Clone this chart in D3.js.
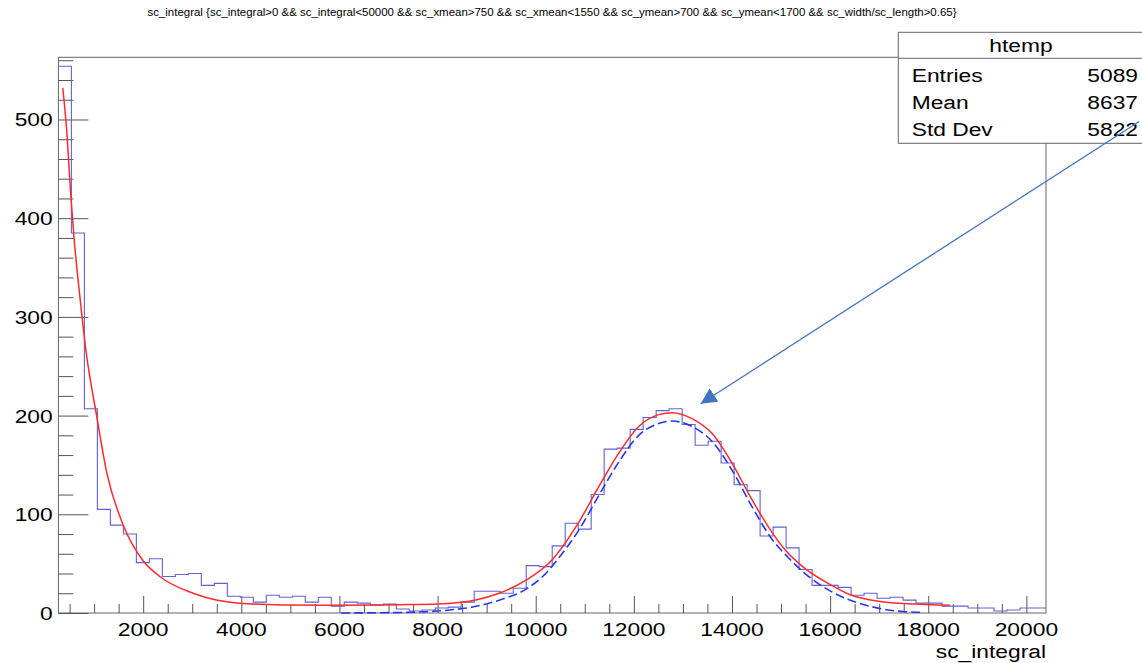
<!DOCTYPE html>
<html>
<head>
<meta charset="utf-8">
<script src="https://cdn.jsdelivr.net/npm/d3@7"></script>
<style>
body { margin: 0; background: #fff; }
svg { display: block; font-family: "Liberation Sans", Arial, sans-serif; }
</style>
</head>
<body>
<svg></svg>
<script>
// data
var title = "sc_integral {sc_integral>0 && sc_integral<50000 && sc_xmean>750 && sc_xmean<1550 && sc_ymean>700 && sc_ymean<1700 && sc_width/sc_length>0.65}"
var xLabel = "sc_integral"
var xMin = 272, xMax = 20400, yMax = 563
var counts = [554, 385, 207, 105, 89, 80, 51, 55, 37, 39,
  40, 28, 30, 17, 16, 11, 18, 16, 17, 11,
  16, 7, 11, 10, 8, 9, 4, 2, 3, 5,
  6, 11, 22, 22, 20, 25, 48, 47, 68, 91,
  85, 120, 166, 167, 186, 198, 205, 207, 191, 170,
  174, 152, 130, 124, 78, 87, 66, 44, 28, 28,
  26, 18, 20, 15, 16, 13, 10, 10, 7, 7,
  5, 5, 2, 3, 5, 5]
// total fit (red) and gaussian component (blue dashed)
var fitTotal = [[361, 532], [441, 489], [522, 425], [589, 381], [711, 320], [833, 266], [1051, 200],
  [1254, 143], [1594, 89], [2000, 53], [2339, 37], [3018, 20], [3422, 14], [3965, 10],
  [4846, 8.2], [5863, 7.8], [6812, 8.1], [7226, 8.4], [7998, 9.1], [8779, 13.2], [9252, 20],
  [9795, 33], [10337, 54], [10879, 92], [11286, 128], [11693, 162], [12100, 189], [12507, 201],
  [12778, 203], [13185, 197], [13592, 182], [13998, 152], [14405, 115], [14812, 82], [15083, 64],
  [15490, 45], [15964, 30], [16438, 18], [16981, 12], [17727, 9], [18439, 7.8]]
var fitGaus = [[6034, 0], [7423, 0.7], [8236, 3], [8711, 6], [9254, 13], [9796, 24], [10203, 40],
  [10473, 56], [10879, 84], [11286, 119], [11693, 153], [12100, 180], [12507, 192], [12778, 194.5],
  [13185, 189], [13592, 174], [13998, 145], [14405, 108], [14812, 75], [15151, 56], [15490, 40],
  [16169, 18], [16847, 6.4], [17526, 1.3], [17898, 0.7]]
var xTicks = [2000, 4000, 6000, 8000, 10000, 12000, 14000, 16000, 18000, 20000]
var xMinor = d3.range(500, 20401, 500).filter(d => d % 2000 != 0)
var yTicks = [0, 100, 200, 300, 400, 500]
var yMinor = d3.range(20, 561, 20).filter(d => d % 100 != 0)
var statsName = "htemp"
var statsRows = ["Entries", "Mean", "Std Dev"]
var statsVals = ["5089", "8637", "5822"]
var arrowFrom = [22300, 498], arrowTo = [13360, 212]

var svg = d3.select('svg')
  .attr('width', 1142)
  .attr('height', 663)

var x = d3.scaleLinear().domain([xMin, xMax]).range([58.4, 1046])
var y = d3.scaleLinear().domain([0, yMax]).range([613, 57.3])
var sx = 1.2 // text in the picture is a bit stretched sideways
var fs = 19

// title
svg.append('text')
  .attr('x', 552).attr('y', 16)
  .attr('text-anchor', 'middle')
  .attr('font-size', 10)
  .attr('textLength', 809)
  .attr('lengthAdjust', 'spacingAndGlyphs')
  .text(title)

// frame
svg.append('rect')
  .attr('x', x(xMin)).attr('y', y(yMax))
  .attr('width', x(xMax) - x(xMin)).attr('height', y(0) - y(yMax))
  .attr('fill', 'none').attr('stroke', '#666')

// ticks, pointing inward like ROOT
function ticks(g) { g.select('.domain').remove(); g.selectAll('line').attr('stroke', '#555') }
svg.append('g').attr('transform', 'translate(0,613)')
  .call(d3.axisBottom(x).tickValues(xTicks).tickSize(-17).tickFormat('')).call(ticks)
svg.append('g').attr('transform', 'translate(0,613)')
  .call(d3.axisBottom(x).tickValues(xMinor).tickSize(-9).tickFormat('')).call(ticks)
svg.append('g').attr('transform', 'translate(58.4,0)')
  .call(d3.axisLeft(y).tickValues(yTicks).tickSize(-30).tickFormat('')).call(ticks)
svg.append('g').attr('transform', 'translate(58.4,0)')
  .call(d3.axisLeft(y).tickValues(yMinor).tickSize(-15).tickFormat('')).call(ticks)

// tick labels
svg.selectAll('text.xl').data(xTicks).enter().append('text')
  .attr('class', 'xl')
  .attr('transform', d => `translate(${x(d)},636) scale(${sx},1)`)
  .attr('text-anchor', 'middle')
  .attr('font-size', fs)
  .text(d => d)
svg.selectAll('text.yl').data(yTicks).enter().append('text')
  .attr('class', 'yl')
  .attr('transform', d => `translate(52.7,${y(d) + 7}) scale(${sx},1)`)
  .attr('text-anchor', 'end')
  .attr('font-size', fs)
  .text(d => d)
svg.append('text')
  .attr('transform', `translate(1046,658) scale(${sx},1)`)
  .attr('text-anchor', 'end')
  .attr('font-size', fs)
  .text(xLabel)

// histogram
var binW = (xMax - xMin) / counts.length
var steps = counts.map((c, i) => [xMin + i * binW, c])
steps.push([xMax, counts[counts.length - 1]])
svg.append('path')
  .datum(steps)
  .attr('d', d3.line().x(d => x(d[0])).y(d => y(d[1])).curve(d3.curveStepAfter))
  .attr('fill', 'none')
  .attr('stroke', '#6262d6')
  .attr('stroke-width', 1.1)

// fits
var fitLine = d3.line().x(d => x(d[0])).y(d => y(d[1])).curve(d3.curveMonotoneX)
svg.append('path')
  .datum(fitGaus)
  .attr('d', fitLine)
  .attr('fill', 'none')
  .attr('stroke', '#2438f0')
  .attr('stroke-width', 1.6)
  .attr('stroke-dasharray', '9,4')
svg.append('path')
  .datum(fitTotal)
  .attr('d', fitLine)
  .attr('fill', 'none')
  .attr('stroke', '#ff2a2a')
  .attr('stroke-width', 1.5)

// stats box
var box = svg.append('g')
box.append('rect')
  .attr('x', 898.3).attr('y', 32.3)
  .attr('width', 270).attr('height', 111)
  .attr('fill', '#fff').attr('stroke', '#666')
box.append('line')
  .attr('x1', 898.3).attr('x2', 1142)
  .attr('y1', 58.3).attr('y2', 58.3)
  .attr('stroke', '#666')
box.append('text')
  .attr('transform', `translate(1021,52) scale(${sx},1)`)
  .attr('text-anchor', 'middle')
  .attr('font-size', fs)
  .text(statsName)
box.selectAll('text.sn').data(statsRows).enter().append('text')
  .attr('class', 'sn')
  .attr('transform', (d, i) => `translate(911.7,${82 + i * 27.2}) scale(${sx},1)`)
  .attr('font-size', fs)
  .text(d => d)
box.selectAll('text.sv').data(statsVals).enter().append('text')
  .attr('class', 'sv')
  .attr('transform', (d, i) => `translate(1138,${82 + i * 27.2}) scale(${sx},1)`)
  .attr('text-anchor', 'end')
  .attr('font-size', fs)
  .text(d => d)

// arrow annotation
svg.append('defs').append('marker')
  .attr('id', 'head')
  .attr('viewBox', '0 0 10 10')
  .attr('refX', 10).attr('refY', 5)
  .attr('markerWidth', 16).attr('markerHeight', 16)
  .attr('markerUnits', 'userSpaceOnUse')
  .attr('preserveAspectRatio', 'none')
  .attr('orient', 'auto')
  .append('path')
  .attr('d', 'M0,0L10,5L0,10z')
  .attr('fill', '#4472c4')
svg.append('line')
  .attr('x1', x(arrowFrom[0])).attr('y1', y(arrowFrom[1]))
  .attr('x2', x(arrowTo[0])).attr('y2', y(arrowTo[1]))
  .attr('stroke', '#4472c4')
  .attr('stroke-width', 1.3)
  .attr('marker-end', 'url(#head)')
</script>
</body>
</html>
